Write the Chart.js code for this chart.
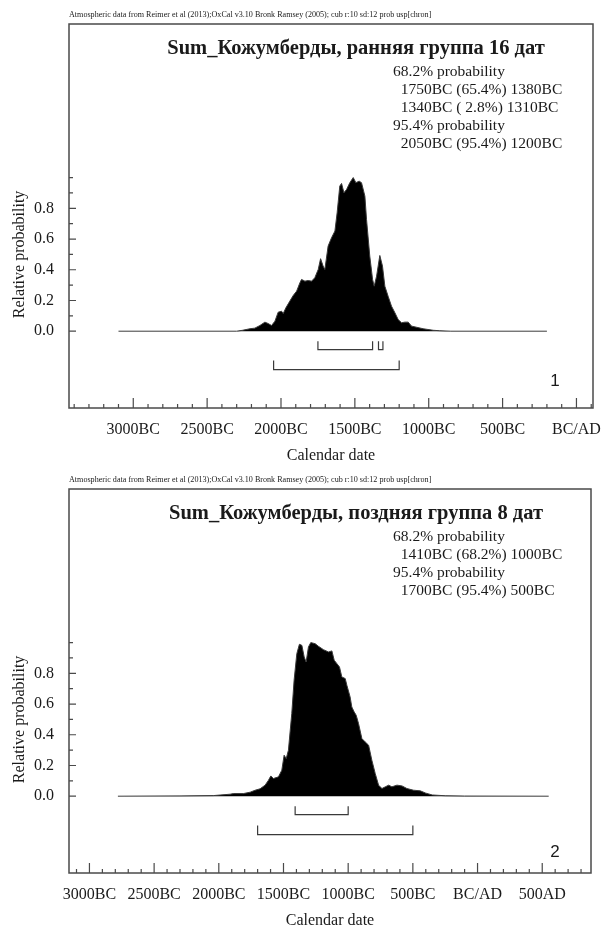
<!DOCTYPE html>
<html>
<head>
<meta charset="utf-8">
<script src="https://cdn.jsdelivr.net/npm/chart.js@4.4.1/dist/chart.umd.min.js"></script>
<style>
    body { margin: 0; background: #fff; width: 601px; height: 926px; position: relative; overflow: hidden; }
    canvas { position: absolute; left: 0; }
    #chart1 { top: 0; }
    #chart2 { top: 465px; }
</style>
</head>
<body>
<canvas id="chart1" width="601" height="462"></canvas>
<canvas id="chart2" width="601" height="462"></canvas>
<script>
/* -------------------------------------------------------------------------- */
/*                                    DATA                                    */
/* -------------------------------------------------------------------------- */

const header = 'Atmospheric data from Reimer et al (2013);OxCal v3.10 Bronk Ramsey (2005); cub r:10 sd:12 prob usp[chron]'
const yTickLabels = ['0.0', '0.2', '0.4', '0.6', '0.8']

// panel 1 - early group
const title1 = 'Sum_Кожумберды, ранняя группа 16 дат'
const summary1 = ['68.2% probability', '  1750BC (65.4%) 1380BC', '  1340BC ( 2.8%) 1310BC', '95.4% probability', '  2050BC (95.4%) 1200BC']
const years1 = [-3100, -2300, -2260, -2210, -2177, -2143, -2109, -2087, -2064, -2041,
    -2019, -1996, -1985, -1967, -1940, -1917, -1894, -1872, -1861, -1838,
    -1816, -1793, -1771, -1748, -1732, -1715, -1703, -1681, -1658, -1635,
    -1620, -1602, -1590, -1574, -1556, -1534, -1511, -1493, -1471, -1455,
    -1432, -1421, -1399, -1380, -1369, -1353, -1331, -1313, -1297, -1275,
    -1252, -1229, -1207, -1184, -1162, -1139, -1116, -1083, -1038, -970,
    -925, -850, -200]
const prob1 = [0, 0, 0.006, 0.016, 0.02, 0.037, 0.059, 0.05, 0.037, 0.065,
    0.124, 0.13, 0.115, 0.152, 0.196, 0.233, 0.261, 0.315, 0.337, 0.326,
    0.33, 0.326, 0.348, 0.402, 0.472, 0.424, 0.402, 0.554, 0.608, 0.652,
    0.771, 0.945, 0.962, 0.902, 0.923, 0.967, 1.0, 0.967, 0.977, 0.967,
    0.879, 0.728, 0.489, 0.337, 0.293, 0.358, 0.493, 0.424, 0.293, 0.228,
    0.163, 0.12, 0.076, 0.055, 0.059, 0.059, 0.033, 0.026, 0.016, 0.006,
    0.003, 0, 0]
const range68_1 = [[-1750, -1380], [-1340, -1310]]
const range95_1 = [[-2050, -1200]]
const xLimits1 = [-3435, 112]

// panel 2 - late group
const title2 = 'Sum_Кожумберды, поздняя группа 8 дат'
const summary2 = ['68.2% probability', '  1410BC (68.2%) 1000BC', '95.4% probability', '  1700BC (95.4%) 500BC']
const years2 = [-2780, -2300, -2042, -1913, -1887, -1810, -1758, -1719, -1681, -1642,
    -1616, -1598, -1578, -1539, -1513, -1495, -1479, -1462, -1436, -1418,
    -1397, -1377, -1358, -1340, -1325, -1307, -1289, -1255, -1230, -1191,
    -1152, -1126, -1108, -1087, -1067, -1049, -1023, -1010, -985, -972,
    -954, -938, -920, -894, -868, -842, -817, -791, -765, -739,
    -713, -687, -662, -623, -584, -546, -495, -443, -400, -350,
    -250, -100, 550]
const prob2 = [0, 0.002, 0.004, 0.013, 0.017, 0.017, 0.026, 0.039, 0.048, 0.072,
    0.104, 0.132, 0.115, 0.126, 0.169, 0.267, 0.245, 0.299, 0.538, 0.755,
    0.928, 0.989, 0.982, 0.906, 0.874, 0.972, 1.0, 0.993, 0.976, 0.954,
    0.939, 0.946, 0.885, 0.863, 0.841, 0.776, 0.766, 0.722, 0.646, 0.581,
    0.549, 0.527, 0.473, 0.375, 0.353, 0.332, 0.234, 0.148, 0.072, 0.05,
    0.061, 0.072, 0.061, 0.072, 0.067, 0.05, 0.039, 0.035, 0.02, 0.008,
    0.003, 0.001, 0]
const range68_2 = [[-1410, -1000]]
const range95_2 = [[-1700, -500]]
const xLimits2 = [-3158, 877]


/* -------------------------------------------------------------------------- */
/*                                   HELPERS                                  */
/* -------------------------------------------------------------------------- */

const serif = 'Liberation Serif'
const ink = '#1a1a1a'
const frameColor = '#4a4a4a'

function yearLabel(v) {
    if (v % 500 !== 0) return ''
    if (v < 0) return (-v) + 'BC'
    if (v === 0) return 'BC/AD'
    return v + 'AD'
}

// range bars under the curve, drawn as |___| shapes
function bracketPoints(ranges, tip, bar) {
    let pts = []
    ranges.forEach(r => {
        pts.push({x: r[0], y: tip}, {x: r[0], y: bar}, {x: r[1], y: bar}, {x: r[1], y: tip}, {x: r[1], y: null})
    })
    return pts
}

const oxcalDecor = {
    id: 'oxcalDecor',
    afterDraw(chart, args, opts) {
        const {ctx, chartArea: a, scales: {x, y}} = chart
        ctx.save()

        // frame + inward ticks
        ctx.strokeStyle = frameColor
        ctx.lineWidth = 1.5
        ctx.strokeRect(a.left, a.top, a.right - a.left, a.bottom - a.top)
        ctx.lineWidth = 1.2
        ctx.beginPath()
        x.ticks.forEach(t => {
            let px = x.getPixelForValue(t.value)
            let len = t.value % 500 === 0 ? 10 : 4
            ctx.moveTo(px, a.bottom)
            ctx.lineTo(px, a.bottom - len)
        })
        y.ticks.forEach((t, i) => {
            let py = y.getPixelForValue(t.value)
            let len = i % 2 === 0 && i < 10 ? 7 : 4
            ctx.moveTo(a.left, py)
            ctx.lineTo(a.left + len, py)
        })
        ctx.stroke()

        ctx.fillStyle = ink
        ctx.textBaseline = 'middle'

        // header line
        ctx.textAlign = 'left'
        ctx.font = '8.1px "' + serif + '"'
        ctx.fillText(header, a.left, a.top - 9)

        // title
        ctx.textAlign = 'center'
        ctx.font = 'bold 20.5px "' + serif + '"'
        ctx.fillText(opts.title, 356, a.top + 25)

        // probability summary
        ctx.textAlign = 'left'
        ctx.font = '15.5px "' + serif + '"'
        opts.summary.forEach((line, i) => {
            ctx.fillText(line, 393, a.top + 48 + i * 18)
        })

        // panel number
        ctx.textAlign = 'center'
        ctx.font = '17px "Liberation Sans"'
        ctx.fillText(opts.panel, 555, a.bottom - opts.panelOffset)

        // axis titles
        ctx.font = '16px "' + serif + '"'
        ctx.fillText('Calendar date', (a.left + a.right) / 2, a.bottom + 48)
        ctx.translate(20, y.getPixelForValue(0.5))
        ctx.rotate(-Math.PI / 2)
        ctx.fillText('Relative probability', 0, 0)

        ctx.restore()
    }
}

function makeChart(el, years, prob, r68, r95, xLimits, rightPad, title, summary, panel, panelOffset) {
    let curve = years.map((yr, i) => ({x: yr, y: prob[i]}))

    new Chart(el, {
        type: 'line',
        data: {
            datasets: [{
                data: curve,
                fill: 'origin',
                backgroundColor: '#000',
                borderColor: '#3a3a3a',
                borderWidth: 1,
                pointRadius: 0,
                tension: 0
            }, {
                data: bracketPoints(r68, -0.065, -0.12),
                borderColor: '#3a3a3a',
                borderWidth: 1.2,
                pointRadius: 0,
                fill: false,
                spanGaps: false
            }, {
                data: bracketPoints(r95, -0.19, -0.25),
                borderColor: '#3a3a3a',
                borderWidth: 1.2,
                pointRadius: 0,
                fill: false,
                spanGaps: false
            }]
        },
        options: {
            responsive: false,
            animation: false,
            layout: {padding: {top: 24, right: rightPad, bottom: 0, left: 0}},
            plugins: {
                legend: {display: false},
                tooltip: {enabled: false},
                oxcalDecor: {title: title, summary: summary, panel: panel, panelOffset: panelOffset}
            },
            scales: {
                x: {
                    type: 'linear',
                    min: xLimits[0],
                    max: xLimits[1],
                    grid: {display: false},
                    border: {display: false},
                    afterBuildTicks(s) {
                        let t = []
                        for (let v = Math.ceil(s.min / 100) * 100; v <= s.max; v += 100) t.push({value: v})
                        s.ticks = t
                    },
                    ticks: {
                        autoSkip: false,
                        maxRotation: 0,
                        padding: 4,
                        color: ink,
                        font: {family: serif, size: 16},
                        callback: v => yearLabel(v)
                    },
                    afterFit(s) {
                        s.height = 54
                        s.paddingLeft = 0
                        s.paddingRight = 0
                    }
                },
                y: {
                    min: -0.5,
                    max: 2,
                    grid: {display: false},
                    border: {display: false},
                    afterBuildTicks(s) {
                        let t = []
                        for (let i = 0; i <= 10; i++) t.push({value: i / 10})
                        s.ticks = t
                    },
                    ticks: {
                        autoSkip: false,
                        padding: 7,
                        color: ink,
                        font: {family: serif, size: 16},
                        callback: (v, i) => (i % 2 === 0 && i < 10) ? yTickLabels[i / 2] : ''
                    },
                    afterFit(s) {
                        s.width = 69
                        s.paddingTop = 0
                        s.paddingBottom = 0
                    }
                }
            }
        },
        plugins: [oxcalDecor]
    })
}

makeChart(document.querySelector('#chart1'), years1, prob1, range68_1, range95_1, xLimits1, 8, title1, summary1, '1', 27)
makeChart(document.querySelector('#chart2'), years2, prob2, range68_2, range95_2, xLimits2, 10, title2, summary2, '2', 21)
</script>
</body>
</html>
